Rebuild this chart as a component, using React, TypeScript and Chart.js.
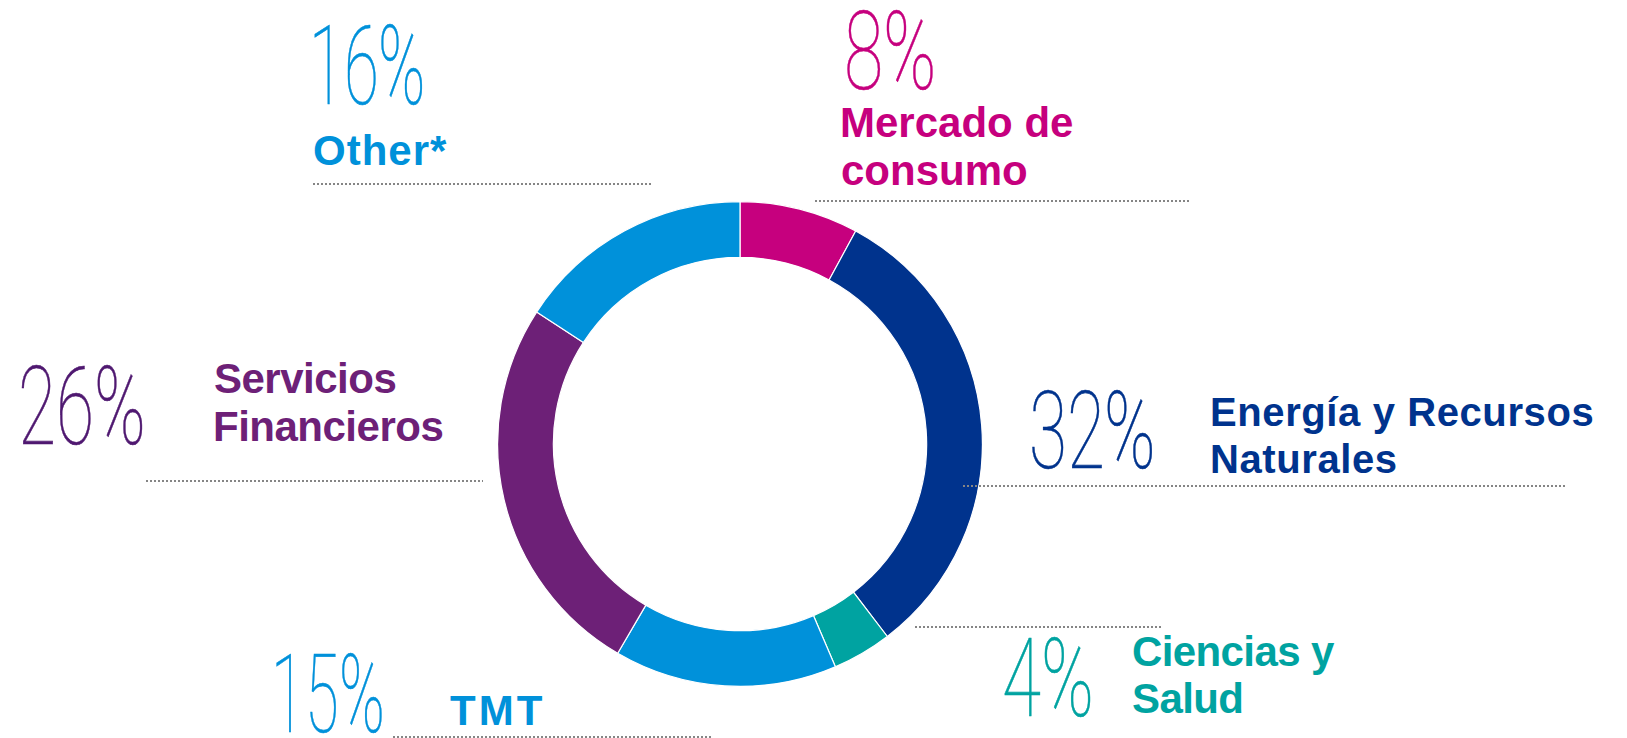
import React, { useEffect, useRef, useState } from "react";
import { Chart, registerables } from "chart.js";

Chart.register(...registerables);

// ---- data ----
const categories = [
  "Mercado de consumo",
  "Energía y Recursos Naturales",
  "Ciencias y Salud",
  "TMT",
  "Servicios Financieros",
  "Other*",
];
const values = [8, 32, 4, 15, 26, 16];
const labelLines = [
  ["Mercado de", "consumo"],
  ["Energía y Recursos", "Naturales"],
  ["Ciencias y", "Salud"],
  ["TMT"],
  ["Servicios", "Financieros"],
  ["Other*"],
];
const sliceColors = ["#C6007E", "#00338D", "#00A3A1", "#0091DA", "#6D2077", "#0091DA"];
const pctColors = ["#C6007E", "#00338D", "#00A3A1", "#0091DA", "#4F1870", "#0091DA"];

// ---- layout (positions only) ----
type Box = { x0: number; x1: number; y0: number; y1: number };
type Layout = {
  pct: Box;
  text: { x: number; baselines: number[]; size: number; ls: number };
  line: { x0: number; x1: number; y: number };
};
const LAYOUT: Layout[] = [
  { pct: { x0: 847, x1: 933, y0: 10, y1: 90 }, text: { x: 842, baselines: [137, 185], size: 42, ls: 0 }, line: { x0: 815, x1: 1190, y: 200 } },
  { pct: { x0: 1032, x1: 1153, y0: 390, y1: 469 }, text: { x: 1212, baselines: [426, 473], size: 40, ls: 0.6 }, line: { x0: 963, x1: 1567, y: 485 } },
  { pct: { x0: 1005, x1: 1091, y0: 637, y1: 717 }, text: { x: 1133, baselines: [666, 713], size: 42, ls: -0.6 }, line: { x0: 915, x1: 1162, y: 626 } },
  { pct: { x0: 277, x1: 382, y0: 653, y1: 733 }, text: { x: 450, baselines: [725], size: 42, ls: 3 }, line: { x0: 393, x1: 713, y: 736 } },
  { pct: { x0: 22, x1: 143, y0: 365, y1: 445 }, text: { x: 215, baselines: [393, 441], size: 42, ls: -0.5 }, line: { x0: 146, x1: 483, y: 480 } },
  { pct: { x0: 315, x1: 423, y0: 24, y1: 105 }, text: { x: 314, baselines: [165], size: 42, ls: 1 }, line: { x0: 313, x1: 652, y: 183 } },
];

const PCT_WEIGHT = 100;
const PCT_SIZE = 112;
const LBL_FAMILY = "'Liberation Sans', Arial, sans-serif";
const TIGHT_ASC = 0.74;
const TIGHT_DESC = 0.03;

type PctFont = { family: string; tight: boolean };

let measureCtx: CanvasRenderingContext2D | null = null;
function getCtx() {
  if (!measureCtx) measureCtx = document.createElement("canvas").getContext("2d");
  return measureCtx!;
}

function PctLabel({ text, color, box, font }: { text: string; color: string; box: Box; font: PctFont }) {
  const ctx = getCtx();
  // glyph ink is identical in both faces; measure with the system Roboto
  ctx.font = `${PCT_WEIGHT} ${PCT_SIZE}px Roboto, 'Open Sans', sans-serif`;
  const m = ctx.measureText(text);
  const inkW = m.actualBoundingBoxLeft + m.actualBoundingBoxRight;
  const inkH = m.actualBoundingBoxAscent + m.actualBoundingBoxDescent;
  const fa = font.tight ? TIGHT_ASC * PCT_SIZE : m.fontBoundingBoxAscent;
  const fd = font.tight ? TIGHT_DESC * PCT_SIZE : m.fontBoundingBoxDescent;
  const lh = fa + fd;
  const baseline = fa;
  const inkTop = baseline - m.actualBoundingBoxAscent;
  const inkLeft = -m.actualBoundingBoxLeft;
  const sx = (box.x1 - box.x0) / inkW;
  const sy = (box.y1 - box.y0) / inkH;
  return (
    <div
      style={{
        position: "absolute",
        left: 0,
        top: 0,
        transformOrigin: "0 0",
        transform: `translate(${box.x0}px, ${box.y0}px) scale(${sx}, ${sy}) translate(${-inkLeft}px, ${-inkTop}px)`,
        fontFamily: font.family,
        fontWeight: PCT_WEIGHT,
        fontSize: PCT_SIZE,
        lineHeight: `${lh}px`,
        whiteSpace: "nowrap",
        color,
        WebkitTextStroke: `0.6px ${color}`,
      }}
    >
      {text}
    </div>
  );
}

function TextLine({ text, color, x, baseline, size, ls }: { text: string; color: string; x: number; baseline: number; size: number; ls: number }) {
  const ctx = getCtx();
  ctx.font = `700 ${size}px ${LBL_FAMILY}`;
  const m = ctx.measureText(text);
  const fa = m.fontBoundingBoxAscent;
  const fd = m.fontBoundingBoxDescent;
  const lh = fa + fd;
  const left = x + m.actualBoundingBoxLeft;
  return (
    <div
      style={{
        position: "absolute",
        left,
        top: baseline - fa,
        fontFamily: LBL_FAMILY,
        fontWeight: 700,
        fontSize: size,
        lineHeight: `${lh}px`,
        letterSpacing: `${ls}px`,
        whiteSpace: "nowrap",
        color,
      }}
    >
      {text}
    </div>
  );
}

function DottedLine({ x0, x1, y }: { x0: number; x1: number; y: number }) {
  return (
    <div
      style={{
        position: "absolute",
        left: x0,
        top: y,
        width: x1 - x0,
        height: 2,
        backgroundImage:
          "repeating-linear-gradient(to right, #858585 0px, #858585 2px, rgba(255,255,255,0) 2px, rgba(255,255,255,0) 4px)",
      }}
    />
  );
}

export default function App() {
  const canvasRef = useRef<HTMLCanvasElement | null>(null);
  const [pctFont, setPctFont] = useState<PctFont>({ family: "Roboto, 'Open Sans', sans-serif", tight: false });

  useEffect(() => {
    let alive = true;
    try {
      const FF: any = (window as any).FontFace;
      const ff = new FF("PctRoboto", 'local("Roboto Thin"), local("Roboto-Thin")', {
        weight: "100",
        ascentOverride: `${TIGHT_ASC * 100}%`,
        descentOverride: `${TIGHT_DESC * 100}%`,
        lineGapOverride: "0%",
      });
      ff.load()
        .then((f: any) => {
          (document as any).fonts.add(f);
          if (alive) setPctFont({ family: "PctRoboto, Roboto, sans-serif", tight: true });
        })
        .catch(() => {});
    } catch (e) {
      // keep system Roboto
    }
    return () => {
      alive = false;
    };
  }, []);

  useEffect(() => {
    if (!canvasRef.current) return;
    const chart = new Chart(canvasRef.current, {
      type: "doughnut",
      data: {
        labels: categories,
        datasets: [
          {
            data: values,
            backgroundColor: sliceColors,
            borderColor: "#ffffff",
            borderWidth: 1.2,
            hoverOffset: 0,
          },
        ],
      },
      options: {
        responsive: false,
        animation: false,
        cutout: "77%",
        layout: { padding: 0 },
        events: [],
        plugins: {
          legend: { display: false },
          tooltip: { enabled: false },
        },
      },
    });
    return () => chart.destroy();
  }, []);

  return (
    <div
      style={{
        position: "absolute",
        left: 0,
        top: 0,
        width: 1627,
        height: 738,
        overflow: "hidden",
        background: "#ffffff",
      }}
    >
      <canvas
        ref={canvasRef}
        width={486}
        height={486}
        style={{ position: "absolute", left: 497, top: 201, width: 486, height: 486 }}
      />
      {LAYOUT.map((lay, i) => (
        <React.Fragment key={i}>
          <DottedLine {...lay.line} />
          <PctLabel text={`${values[i]}%`} color={pctColors[i]} box={lay.pct} font={pctFont} />
          {labelLines[i].map((t, j) => (
            <TextLine
              key={j}
              text={t}
              color={sliceColors[i]}
              x={lay.text.x}
              baseline={lay.text.baselines[j]}
              size={lay.text.size}
              ls={lay.text.ls}
            />
          ))}
        </React.Fragment>
      ))}
    </div>
  );
}
